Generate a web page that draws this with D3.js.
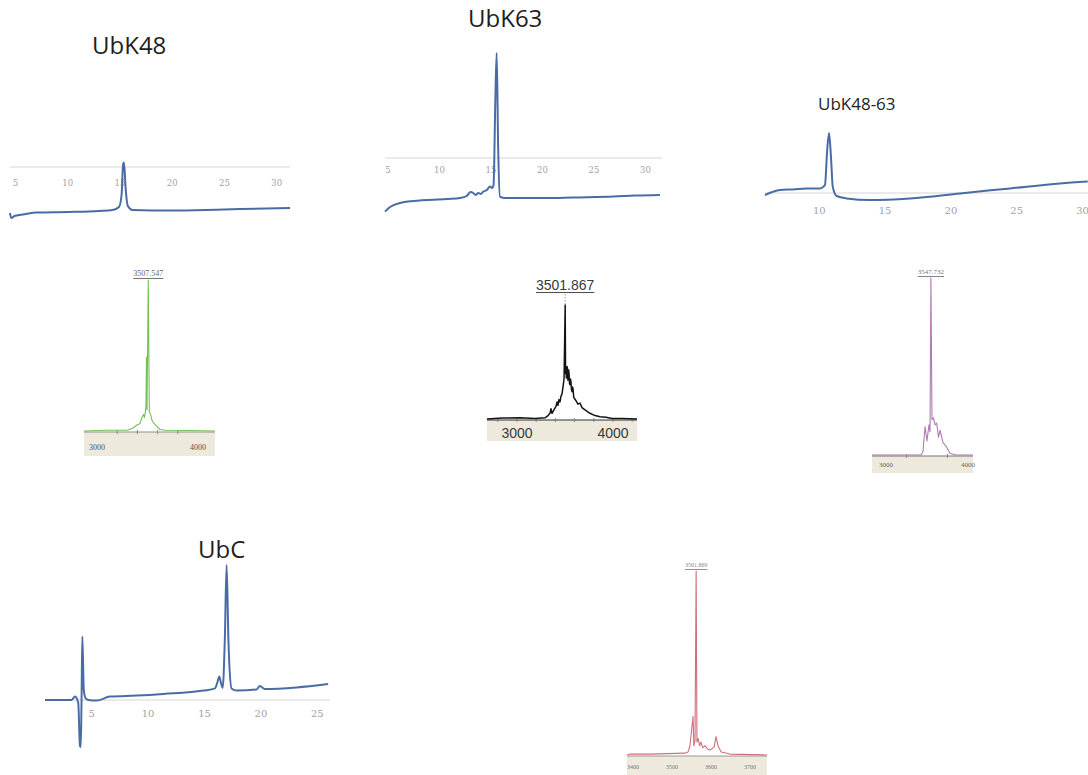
<!DOCTYPE html>
<html>
<head>
<meta charset="utf-8">
<script src="https://cdn.jsdelivr.net/npm/d3@7"></script>
<style>
body { margin: 0; background: #ffffff; }
svg { display: block; }
.title { font-family: 'Open Sans', sans-serif; fill: #1e1e1e; }
.chromTick { font-family: 'DejaVu Serif', serif; fill: #a2a2a2; }
</style>
</head>
<body>
<svg id="fig" width="1088" height="775"></svg>
<script>
// ---- HPLC traces: [retention time (min), signal (mAU)] ----
var ubk48Lc = [[4.47,-230],[4.6,-255],[4.9,-245],[6,-235],[7,-228],[10,-225],[13,-220],[14.3,-215],[14.9,-200],
  [15.15,-140],[15.3,15],[15.38,22],[15.55,-115],[15.75,-195],[16.2,-215],[20,-218],[25,-212],[29,-208],[31.27,-205]];
var ubk63Lc = [[4.71,-268],[5.2,-245],[6.17,-225],[7.46,-215],[10.7,-205],[12,-200],[12.64,-190],[13,-170],[13.28,-175],
  [13.5,-185],[13.77,-175],[14,-180],[14.25,-168],[14.6,-160],[14.9,-143],[15.1,-150],[15.25,-135],[15.42,290],
  [15.55,525],[15.7,40],[15.87,-193],[16.36,-200],[20.4,-200],[23,-197],[26.9,-193],[29,-188],[31.4,-185]];
var ubk4863Lc = [[5.87,-10],[7.01,15],[8.02,18],[9,22],[10.05,23],[10.43,40],[10.6,215],[10.74,300],[10.9,165],
  [11.02,32],[11.32,-15],[12.08,-27],[13.85,-35],[16.89,-27],[20.7,-2],[24.5,23],[28.3,48],[30.4,57]];
var ubcLc = [[0.86,0],[3.2,0],[3.52,17],[3.7,5],[3.81,-15],[3.96,-230],[4.03,-235],[4.1,0],[4.17,317],[4.3,50],
  [4.45,10],[4.7,0],[5.44,-3],[6.62,17],[9,22],[11.35,30],[14.9,47],[15.93,58],[16.15,90],[16.31,117],[16.48,80],
  [16.61,60],[16.8,300],[16.96,675],[17.12,300],[17.4,58],[17.85,47],[19.62,53],[19.9,70],[20.35,55],[23.16,63],[25.96,80]];

var lcTicks = [5, 10, 15, 20, 25, 30];
var lcTicks4863 = [10, 15, 20, 25, 30];
var lcTicksUbc = [5, 10, 15, 20, 25];

// ---- MALDI spectra: [m/z, relative intensity (%)] ----
var ubk48Ms = [[2871,0],[3100,0.5],[3300,0.5],[3356,2],[3396,4],[3426,5],[3446,9],[3460,11],[3470,9],[3480,13],[3485,17],
  [3490,49],[3495,14],[3507.5,100],[3518,13],[3530,11],[3545,7],[3564,5],[3594,3],[3624,1],[3673,0.5],[3900,0.3],[4168,0]];
var ubk63Ms = [[2687,0],[2850,0.8],[3031,1],[3187,0.5],[3292,1],[3323,3],[3344,5],[3354,9],[3365,5],[3385,8],[3406,11],
  [3417,15],[3427,12],[3437,17],[3448,15],[3458,20],[3469,22],[3479,28],[3490,35],[3501.9,100],[3506,40],[3510,45],
  [3514,36],[3518,38],[3522,46],[3526,44],[3530,34],[3534,36],[3538,43],[3542,40],[3547,31],[3552,30],[3557,35],
  [3562,33],[3567,26],[3573,24],[3578,28],[3583,27],[3591,19],[3599,18],[3615,16],[3635,13],[3656,14],[3677,10],
  [3708,8],[3760,5],[3813,3],[3865,2],[3927,1.5],[3990,0.5],[4100,0.5],[4250,0]];
var ubk4863Ms = [[2829,0],[3200,0],[3427,0],[3451,2],[3476,16],[3500,8],[3524,17],[3537,13],[3547.7,100],[3561,20],
  [3579,21],[3598,17],[3618,18],[3640,10],[3659,14],[3695,7],[3732,5],[3756,3],[3780,1],[3850,0],[4061,0]];
var ubcMs = [[3385,0],[3392,0.5],[3444,0.5],[3533,1],[3541,1.6],[3546,5],[3554,21],[3556,5],[3559,8],[3561.9,100],
  [3564,7],[3567,9],[3571,5],[3574,7],[3579,4],[3585,5],[3592,3],[3597,2.7],[3608,4.3],[3613,10],[3618,5],[3626,1.6],
  [3649,0.5],[3744,0]];

var msTicks = [3000, 4000];
var msTicksUbc = [3400, 3500, 3600, 3700];

var titles = ["UbK48", "UbK63", "UbK48-63", "UbC"];
var peakLabels = ["3507.547", "3501.867", "3547.732", "3561.869"];

var svg = d3.select("#fig");

// titles
var titlePos = [[92, 54, 24], [468, 27, 24], [818, 110, 17], [198, 558, 24]];
titles.forEach(function (t, i) {
  svg.append("text").attr("class", "title")
    .attr("x", titlePos[i][0]).attr("y", titlePos[i][1])
    .style("font-size", titlePos[i][2] + "px")
    .text(t);
});

// chromatogram panel
function drawLc(data, ticks, o) {
  var x = d3.scaleLinear().domain(o.tDomain).range(o.xRange);
  var y = d3.scaleLinear().domain([0, 500]).range([o.axisY, o.axisY - 100]);
  var g = svg.append("g");

  g.append("line")
    .attr("x1", o.left).attr("x2", o.right)
    .attr("y1", o.axisY).attr("y2", o.axisY)
    .style("stroke", "#d6d6d6").style("stroke-width", 1.2);

  g.selectAll("text.chromTick").data(ticks).enter().append("text")
    .attr("class", "chromTick")
    .attr("x", function (d) { return x(d); })
    .attr("y", o.axisY + o.labelDy)
    .attr("text-anchor", "middle")
    .style("font-size", o.fs + "px")
    .text(function (d) { return d; });

  var line = d3.line()
    .curve(d3.curveMonotoneX)
    .x(function (d) { return x(d[0]); })
    .y(function (d) { return y(d[1]); });

  g.append("path").datum(data)
    .attr("d", line)
    .style("fill", "none")
    .style("stroke", "#4a6ca6")
    .style("stroke-width", 2)
    .style("stroke-linejoin", "round");
}

drawLc(ubk48Lc, lcTicks, { tDomain: [5, 30], xRange: [15.5, 276.75], axisY: 167, left: 10, right: 290, labelDy: 19, fs: 8.5 });
drawLc(ubk63Lc, lcTicks, { tDomain: [5, 30], xRange: [388, 645.5], axisY: 158, left: 385, right: 662, labelDy: 15, fs: 8.5 });
drawLc(ubk4863Lc, lcTicks4863, { tDomain: [10, 30], xRange: [819.3, 1082.5], axisY: 193, left: 765, right: 1088, labelDy: 21, fs: 10 });
drawLc(ubcLc, lcTicksUbc, { tDomain: [5, 25], xRange: [91.7, 317.3], axisY: 700, left: 45, right: 330, labelDy: 17, fs: 10 });

// mass spectrum panel
function drawMs(data, ticks, label, o) {
  var x = d3.scaleLinear().domain(o.mDomain).range(o.xRange);
  var y = d3.scaleLinear().domain([0, 100]).range([o.baseY, o.topY]);
  var g = svg.append("g");

  // beige axis strip
  g.append("rect")
    .attr("x", o.box[0]).attr("y", o.box[2])
    .attr("width", o.box[1] - o.box[0]).attr("height", o.box[3] - o.box[2])
    .style("fill", "#eee9dd");

  g.append("line")
    .attr("x1", o.box[0]).attr("x2", o.box[1])
    .attr("y1", o.baseY + 1).attr("y2", o.baseY + 1)
    .style("stroke", o.axisColor).style("stroke-width", 1.2);

  g.selectAll("line.minor").data(o.minor).enter().append("line")
    .attr("class", "minor")
    .attr("x1", function (d) { return x(d); }).attr("x2", function (d) { return x(d); })
    .attr("y1", o.baseY - 1).attr("y2", o.baseY + 3)
    .style("stroke", "#777").style("stroke-width", 0.8);

  g.selectAll("text.msTick").data(ticks).enter().append("text")
    .attr("class", "msTick")
    .attr("x", function (d) { return x(d); })
    .attr("y", o.tickY)
    .attr("text-anchor", "middle")
    .style("font-family", o.font)
    .style("font-size", o.tickFs + "px")
    .style("fill", o.tickColor)
    .text(function (d) { return d; });

  var line = d3.line()
    .x(function (d) { return x(d[0]); })
    .y(function (d) { return y(d[1]); });

  g.append("path").datum(data)
    .attr("d", line)
    .style("fill", "none")
    .style("stroke", o.color)
    .style("stroke-width", o.sw)
    .style("stroke-linejoin", "round");

  // peak label, underlined
  var peak = data.reduce(function (a, b) { return b[1] > a[1] ? b : a; });
  var lbl = g.append("text")
    .attr("x", x(peak[0]))
    .attr("y", o.labelY)
    .attr("text-anchor", "middle")
    .style("font-family", o.font)
    .style("font-size", o.labelFs + "px")
    .style("fill", o.labelColor)
    .text(label);
  var w = lbl.node().getComputedTextLength();
  g.append("line")
    .attr("x1", x(peak[0]) - w / 2).attr("x2", x(peak[0]) + w / 2)
    .attr("y1", o.labelY + 2.5).attr("y2", o.labelY + 2.5)
    .style("stroke", o.labelColor).style("stroke-width", 0.9);
  g.append("line")
    .attr("x1", x(peak[0])).attr("x2", x(peak[0]))
    .attr("y1", o.labelY + 4).attr("y2", o.topY)
    .style("stroke", "#888").style("stroke-width", 0.8)
    .style("stroke-dasharray", "1.5,1.5");
}

drawMs(ubk48Ms, msTicks, peakLabels[0], {
  mDomain: [3000, 4000], xRange: [97, 198], baseY: 431, topY: 280, box: [84, 215, 432, 456],
  minor: [3200, 3400, 3600, 3800], axisColor: "#8a9a80", color: "#74c056", sw: 1.1,
  font: "'Liberation Serif', serif", tickFs: 8, tickY: 450, tickColor: "#555",
  labelFs: 8, labelY: 276, labelColor: "#666"
});
drawMs(ubk63Ms, msTicks, peakLabels[1], {
  mDomain: [3000, 4000], xRange: [517, 613], baseY: 419, topY: 305, box: [487, 637, 420, 441],
  minor: [2800, 3000, 3200, 3400, 3600, 3800, 4000, 4200], axisColor: "#333", color: "#141414", sw: 1.5,
  font: "'Liberation Sans', sans-serif", tickFs: 14, tickY: 438, tickColor: "#3a3a3a",
  labelFs: 14, labelY: 290, labelColor: "#3a3a3a"
});
drawMs(ubk4863Ms, msTicks, peakLabels[2], {
  mDomain: [3000, 4000], xRange: [886, 968], baseY: 455, topY: 278, box: [872, 973, 456, 473],
  minor: [3250, 3750], axisColor: "#777", color: "#b07ab6", sw: 1.1,
  font: "'Liberation Serif', serif", tickFs: 7, tickY: 467, tickColor: "#666",
  labelFs: 7, labelY: 274, labelColor: "#777"
});
drawMs(ubcMs, msTicksUbc, peakLabels[3], {
  mDomain: [3400, 3700], xRange: [633, 750], baseY: 755, topY: 571, box: [627, 767, 756, 775],
  minor: [], axisColor: "#999", color: "#cf6f7a", sw: 1.1,
  font: "'Liberation Serif', serif", tickFs: 6, tickY: 769, tickColor: "#777",
  labelFs: 6, labelY: 567, labelColor: "#888"
});
</script>
</body>
</html>
